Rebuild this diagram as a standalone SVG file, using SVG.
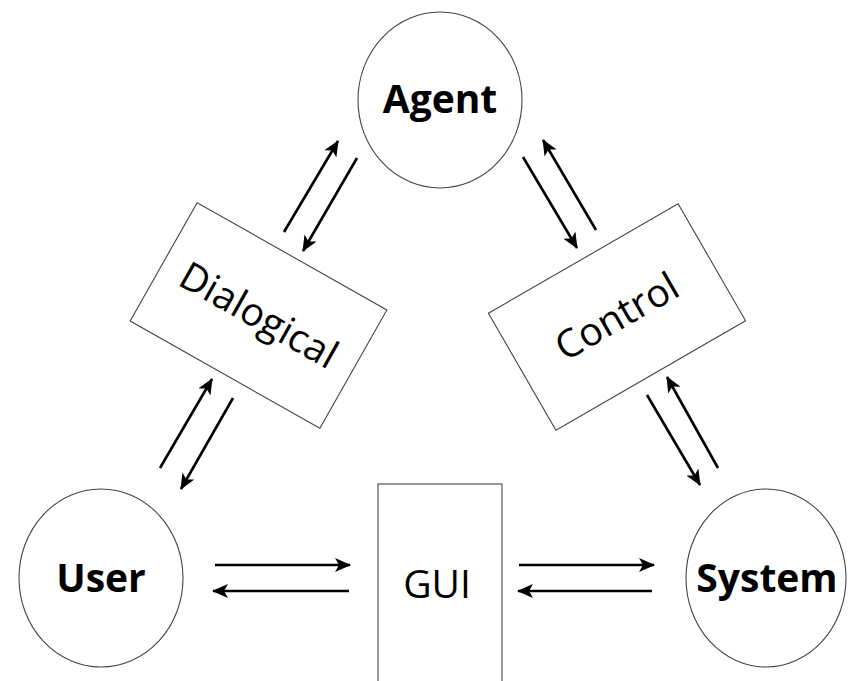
<svg xmlns="http://www.w3.org/2000/svg" width="848" height="681" viewBox="0 0 848 681">
<style>
.shape{fill:#fff;stroke:#444;stroke-width:1.1}
.bold{font-family:"Open Sans","Liberation Sans",sans-serif;font-weight:bold;font-size:39px;fill:#000;text-anchor:middle}
.reg{font-family:"Open Sans","Liberation Sans",sans-serif;font-size:39px;fill:#000;text-anchor:middle}
.arr{stroke:#000;stroke-width:2.6;fill:none;marker-end:url(#ah)}
</style>
<defs>
<marker id="ah" markerUnits="userSpaceOnUse" markerWidth="16" markerHeight="14" viewBox="0 0 16 14" refX="15" refY="7" orient="auto">
<path d="M0,0 L16,7 L0,14 L4,7 z" fill="#000"/>
</marker>
</defs>
<rect width="848" height="681" fill="#fff"/>
<g id="agent">
<ellipse class="shape" cx="440" cy="100" rx="82" ry="88"/>
<text class="bold" x="440" y="113">Agent</text>
</g>
<g id="user">
<ellipse class="shape" cx="101" cy="578" rx="82" ry="89"/>
<text class="bold" x="101" y="592">User</text>
</g>
<g id="system">
<ellipse class="shape" cx="766" cy="578" rx="80" ry="89"/>
<text class="bold" x="767" y="592">System</text>
</g>
<g id="gui">
<rect class="shape" x="378" y="484" width="124" height="210"/>
<text class="reg" x="437" y="598">GUI</text>
</g>
<g id="dialogical" transform="translate(258.5,315.5) rotate(29.5)">
<rect class="shape" x="-109" y="-68" width="218" height="136"/>
<text class="reg" x="0" y="13">Dialogical</text>
</g>
<g id="control" transform="translate(617,317) rotate(-30)">
<rect class="shape" x="-109.5" y="-67.5" width="219" height="135"/>
<text class="reg" x="0" y="13">Control</text>
</g>
<g id="connectors">
<line class="arr" x1="284" y1="232" x2="338" y2="141"/>
<line class="arr" x1="357" y1="158" x2="303" y2="251"/>
<line class="arr" x1="160" y1="468" x2="212" y2="379"/>
<line class="arr" x1="233" y1="398" x2="181" y2="489"/>
<line class="arr" x1="596" y1="230" x2="543" y2="140"/>
<line class="arr" x1="523" y1="157" x2="577" y2="248"/>
<line class="arr" x1="647" y1="395" x2="700" y2="485"/>
<line class="arr" x1="718" y1="468" x2="667" y2="377"/>
<line class="arr" x1="215" y1="565" x2="350" y2="565"/>
<line class="arr" x1="349" y1="591" x2="213" y2="591"/>
<line class="arr" x1="519" y1="565" x2="654" y2="565"/>
<line class="arr" x1="652" y1="591" x2="518" y2="591"/>
</g>
</svg>
